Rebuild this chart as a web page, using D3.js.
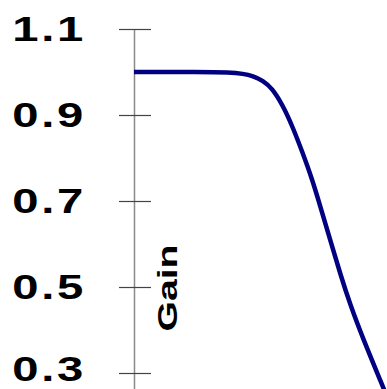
<!DOCTYPE html>
<html>
<head>
<meta charset="utf-8">
<script src="https://cdn.jsdelivr.net/npm/d3@7"></script>
<style>
  body { margin: 0; background: #fff; }
  svg { display: block; }
</style>
</head>
<body>
<div id="chart"></div>
<script>
// relative frequency (0..1 across the visible part) and gain
const freq = [0, 0.261, 0.379, 0.431, 0.470, 0.510, 0.545, 0.589, 0.628, 0.664, 0.704, 0.735, 0.775, 0.818, 0.854, 0.905, 0.984, 1.0];
const gain = [1.000, 1.000, 0.999, 0.996, 0.991, 0.980, 0.963, 0.922, 0.871, 0.816, 0.751, 0.690, 0.611, 0.525, 0.460, 0.380, 0.268, 0.245];
const yTicks = [0.3, 0.5, 0.7, 0.9, 1.1];
const yLabel = 'Gain';

const W = 387, H = 389;
let svg = d3.select('#chart').append('svg')
    .attr('width', W)
    .attr('height', H);

// scales
let x = d3.scaleLinear().domain([0, 1]).range([134, 387]);
let y = d3.scaleLinear().domain([1.1, 0.25]).range([29, 394.5]);

// axis line + ticks on the left side
let axL = svg.append('g')
    .attr('transform', 'translate(134,0)')
    .call(d3.axisLeft(y).tickValues(yTicks).tickSize(15).tickSizeOuter(0).tickFormat(''));
// ticks on the right side of the axis
let axR = svg.append('g')
    .attr('transform', 'translate(134,0)')
    .call(d3.axisRight(y).tickValues(yTicks).tickSize(17).tickSizeOuter(0).tickFormat(''));
axR.select('.domain').remove();
axL.select('.domain').attr('stroke', '#8a8a8a').attr('stroke-width', 1.5);
svg.selectAll('.tick line').attr('stroke', '#444').attr('stroke-width', 1.2);

// tick labels (wide, spaced); the bottom one is nudged up to stay inside
svg.append('g').selectAll('g.lab')
    .data(yTicks)
    .enter()
    .append('g')
    .attr('class', 'lab')
    .attr('transform', d => 'translate(86,' + Math.min(y(d), H - 20) + ') scale(1.35,1)')
    .append('text')
    .attr('text-anchor', 'end')
    .attr('dy', '0.35em')
    .attr('letter-spacing', 2)
    .attr('font-family', 'Liberation Sans, Arial, sans-serif')
    .attr('font-weight', 'bold')
    .attr('font-size', 35)
    .attr('fill', '#000')
    .text(d => d.toFixed(1));

// y-axis title
svg.append('g')
    .attr('transform', 'translate(177,288) rotate(-90) scale(1.4,1)')
    .append('text')
    .attr('text-anchor', 'middle')
    .attr('font-family', 'Liberation Sans, Arial, sans-serif')
    .attr('font-weight', 'bold')
    .attr('font-size', 28)
    .attr('fill', '#000')
    .text(yLabel);

// gain curve
let pts = freq.map((f, i) => [f, gain[i]]);
let line = d3.line()
    .x(d => x(d[0]))
    .y(d => y(d[1]))
    .curve(d3.curveBasis);
svg.append('path')
    .attr('d', line(pts))
    .attr('fill', 'none')
    .attr('stroke', '#000080')
    .attr('stroke-width', 4.5);
</script>
</body>
</html>
